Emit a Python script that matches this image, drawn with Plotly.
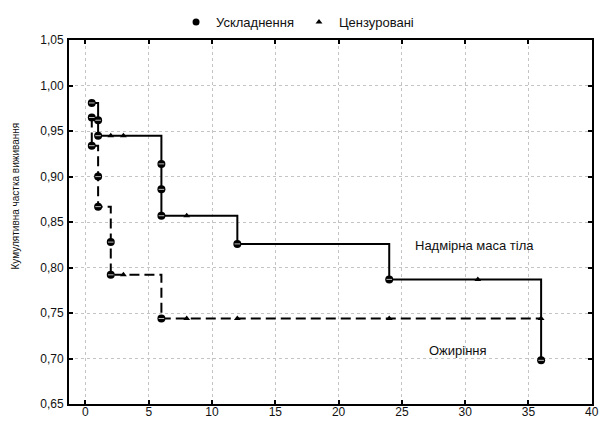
import plotly.graph_objects as go

# ---- data ----
# Надмірна маса тіла (solid)
ow_step_t = [0.5, 1, 6, 12, 24, 36]
ow_step_s = [0.981, 0.945, 0.857, 0.826, 0.787, 0.698]
ow_event_t = [0.5, 1, 1, 6, 6, 6, 12, 24, 36]
ow_event_s = [0.981, 0.962, 0.945, 0.914, 0.886, 0.857, 0.826, 0.787, 0.698]
ow_cens_t = [2, 3, 8, 31]
ow_cens_s = [0.945, 0.945, 0.857, 0.787]

# Ожиріння (dashed)
ob_step_t = [0.5, 0.5, 1, 2, 6, 36]
ob_step_s = [0.965, 0.934, 0.867, 0.792, 0.744, 0.744]
ob_event_t = [0.5, 0.5, 1, 1, 2, 2, 6]
ob_event_s = [0.965, 0.934, 0.900, 0.867, 0.828, 0.792, 0.744]
ob_cens_t = [3, 8, 12, 24, 36]
ob_cens_s = [0.792, 0.744, 0.744, 0.744, 0.744]

x_ticks = [0, 5, 10, 15, 20, 25, 30, 35, 40]
y_ticks = [0.65, 0.70, 0.75, 0.80, 0.85, 0.90, 0.95, 1.00, 1.05]

legend_names = ["Ускладнення", "Цензуровані"]
y_title = "Кумулятивна частка виживання"
label_ow = "Надмірна маса тіла"
label_ob = "Ожиріння"

fig = go.Figure()

# step lines
fig.add_trace(go.Scatter(x=ow_step_t, y=ow_step_s, mode="lines", line_shape="hv",
                         line=dict(color="black", width=2), showlegend=False, hoverinfo="skip"))
fig.add_trace(go.Scatter(x=ob_step_t, y=ob_step_s, mode="lines", line_shape="hv",
                         line=dict(color="black", width=2, dash="10px,5px"), showlegend=False, hoverinfo="skip"))

# events (circles with light stripe)
for et, es in [(ow_event_t, ow_event_s), (ob_event_t, ob_event_s)]:
    fig.add_trace(go.Scatter(x=et, y=es, mode="markers",
                             marker=dict(symbol="circle", size=8, color="black"),
                             showlegend=False))
    fig.add_trace(go.Scatter(x=et, y=es, mode="markers",
                             marker=dict(symbol="line-ew", size=4, line=dict(color="#bbbbbb", width=1)),
                             showlegend=False, hoverinfo="skip"))

# censored (triangles)
for ct, cs in [(ow_cens_t, ow_cens_s), (ob_cens_t, ob_cens_s)]:
    fig.add_trace(go.Scatter(x=ct, y=cs, mode="markers",
                             marker=dict(symbol="triangle-up", size=6, color="black"),
                             showlegend=False))

# legend entries
fig.add_trace(go.Scatter(x=[None], y=[None], mode="markers", name=legend_names[0],
                         marker=dict(symbol="circle", size=7, color="black")))
fig.add_trace(go.Scatter(x=[None], y=[None], mode="markers", name=legend_names[1],
                         marker=dict(symbol="triangle-up", size=6, color="black")))

axis_common = dict(
    showline=True, linecolor="black", linewidth=2, mirror="allticks",
    ticks="inside", ticklen=4, tickwidth=1.5, tickcolor="black",
    showgrid=True, gridcolor="#c4c4c4", gridwidth=1, griddash="dot",
    zeroline=False, ticklabeloverflow="allow",
    tickfont=dict(family="Liberation Sans, Arial", size=12, color="#111"),
)

fig.update_layout(
    width=600, height=421,
    margin=dict(l=69, r=8, t=40, b=17, autoexpand=False),
    paper_bgcolor="white", plot_bgcolor="white",
    separators=", ",
    font=dict(family="Liberation Sans, Arial", size=13, color="#111"),
    xaxis=dict(range=[-1.3, 40.02], tickvals=x_ticks, ticklabelstandoff=-4, **axis_common),
    yaxis=dict(range=[0.65, 1.0502], tickvals=y_ticks, tickformat=".2f", ticklabelstandoff=1,
               **axis_common),
    legend=dict(orientation="h", x=0.437, xanchor="center", y=1.049, yanchor="middle",
                itemwidth=30, font=dict(size=13), bgcolor="rgba(0,0,0,0)"),
    annotations=[
        dict(text=y_title, xref="paper", yref="paper", x=(16 - 69) / 523, y=0.57, textangle=-90,
             showarrow=False, xanchor="center", yanchor="middle", font=dict(size=10)),
        dict(text=label_ow, xref="x", yref="y", x=30.7, y=0.8247, showarrow=False,
             font=dict(size=13)),
        dict(text=label_ob, xref="x", yref="y", x=29.4, y=0.7093, showarrow=False,
             font=dict(size=13)),
    ],
)

fig.write_html("out.html", config={"displayModeBar": False},
               post_script="document.body.style.margin='0';document.body.style.overflow='hidden';")
